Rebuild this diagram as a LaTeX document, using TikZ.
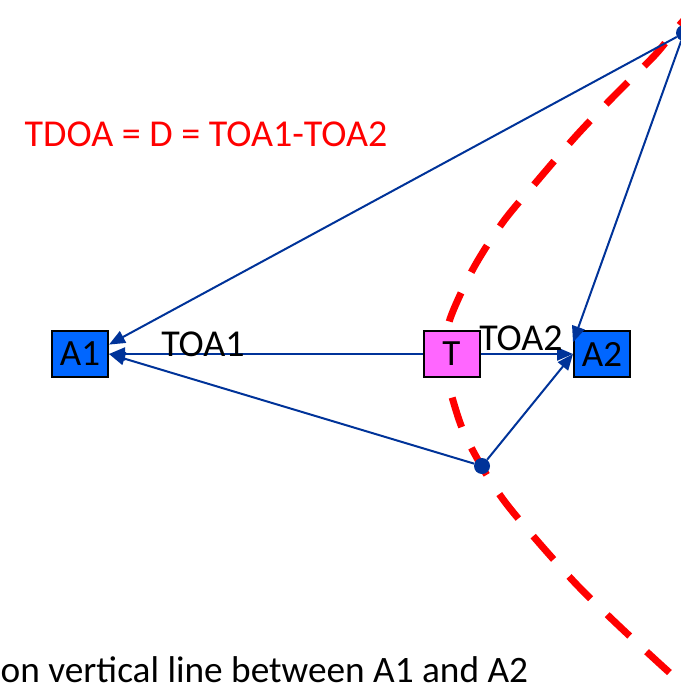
\documentclass[tikz,border=0pt]{standalone}
\usepackage{fontspec}
\setmainfont{Carlito}
\usetikzlibrary{arrows.meta}
\definecolor{linkblue}{RGB}{0,51,153}
\definecolor{anchorblue}{RGB}{0,102,255}
\definecolor{tagpink}{RGB}{255,102,255}
\tikzstyle{station}=[
	rectangle,
	draw=black,
	line width=2pt,
	fill=anchorblue,
	minimum width=56pt,
	minimum height=46pt,
	inner sep=0pt,
	font=\fontsize{37}{40}\selectfont
]
\tikzstyle{tag}=[
	station,
	fill=tagpink
]
\tikzstyle{guess}=[
	circle,
	fill=linkblue,
	inner sep=0pt,
	minimum size=16pt
]
\tikzstyle{signal}=[
	-{Triangle[length=16pt,width=13pt]},
	draw=linkblue,
	line width=2pt
]
\tikzstyle{hyperbola}=[
	draw=red,
	line width=7pt,
	dash pattern=on 31pt off 23pt
]
\tikzstyle{caption}=[
	inner sep=0pt,
	font=\fontsize{38}{44}\selectfont
]

\begin{document}
\begin{tikzpicture}[x=1pt,y=-1pt]
\useasboundingbox (0,0) rectangle (680,693);
% branch of the hyperbola
\draw [hyperbola] plot [smooth] coordinates {(700,2) (677,28) (655,55) (614,96) (576,136) (538,180) (503,222) (473,269) (450,319) (446,350) (448,381) (462,428) (482,467) (505,502) (540,544) (578,586) (618,625) (660,664) (700,700)};
\node [station] (A1) at (80,354) {A1};
\node [tag] (T) at (451.5,354) {T};
\node [station] (A2) at (602,354) {A2};
\node [guess] (P1) at (482,466) {};
\node [guess] (P2) at (684,33) {};
\draw [signal] (T.west) -- (A1.east);
\draw [signal] (T.east) -- (A2.west);
\draw [signal] (P1) -- (A1.east);
\draw [signal] (P1) -- (A2.west);
\draw [signal] (P2) -- (A1.18);
\draw [signal] (P2) -- (A2.158);
\node [caption] (toa1) at (203,344) {TOA1};
\node [caption] (toa2) at (521,338) {TOA2};
\node [caption, text=red] (tdoa) at (206,134.5) {TDOA = D = TOA1-TOA2};
\node [caption, anchor=base west, font=\fontsize{37.3}{44}\selectfont] (note) at (0.5,682) {on vertical line between A1 and A2};
\end{tikzpicture}
\end{document}
